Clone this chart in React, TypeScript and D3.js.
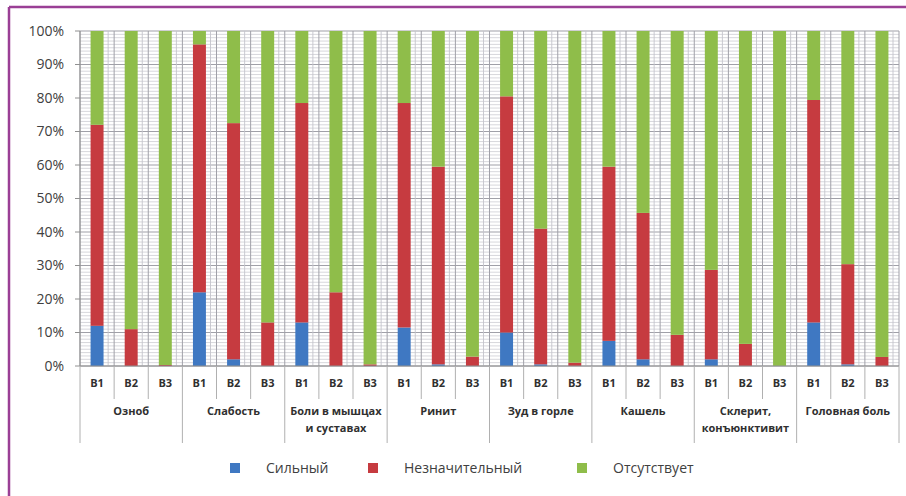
import React from 'react';
import * as d3 from 'd3';

// symptoms, each measured at three visits
const symptoms = ['Озноб', 'Слабость', 'Боли в мышцах|и суставах', 'Ринит', 'Зуд в горле', 'Кашель', 'Склерит,|конъюнктивит', 'Головная боль'];
const visits = ['В1', 'В2', 'В3'];

// percent values per bar (symptom x visit, in order)
const strong = [12, 0, 0, 22, 2, 0, 13, 0, 0, 11.5, 0.5, 0, 10, 0.5, 0, 7.5, 2, 0, 2, 0, 0, 13, 0.5, 0];
const slight = [60, 11, 0.3, 74, 70.5, 13, 65.5, 22, 0.5, 67, 59, 2.8, 70.5, 40.5, 1, 52, 43.7, 9.3, 26.7, 6.6, 0, 66.4, 29.9, 2.7];
const absent = strong.map((s, i) => 100 - s - slight[i]);

const seriesNames = ['Сильный', 'Незначительный', 'Отсутствует'];
const colors = ['#3f78c2', '#c63b40', '#8fbd4a'];
const yTicks = [0, 10, 20, 30, 40, 50, 60, 70, 80, 90, 100];

const width = 906;
const height = 496;
const left = 80;
const right = 899;
const top = 31;
const bottom = 366;

export default function App() {
  const bars = symptoms.flatMap((s, i) => visits.map((v) => `${i}-${v}`));
  const x = d3.scaleBand().domain(bars).range([left, right]).paddingInner(0.62).paddingOuter(0.31);
  const y = d3.scaleLinear().domain([0, 100]).range([bottom, top]);
  const step = x.step();

  const rows = bars.map((b, i) => ({ key: b, s: strong[i], w: slight[i], a: absent[i] }));
  const stack = d3.stack<any>().keys(['s', 'w', 'a'])(rows);

  const minor = d3.range(0, 101, 1);
  const font = '"Open Sans", "Liberation Sans", sans-serif';

  return (
    <svg width={width} height={height} style={{ position: 'absolute', left: 0, top: 0, background: '#fff' }}>
      {/* frame */}
      <line x1={9} x2={width} y1={7} y2={7} stroke="#9a3f95" strokeWidth={2.5} />
      <line x1={9} x2={9} y1={7} y2={height} stroke="#9a3f95" strokeWidth={2.5} />

      {/* grid */}
      {minor.map((t) => (
        <line key={'h' + t} x1={left} x2={right} y1={y(t)} y2={y(t)}
          stroke={t % 10 === 0 ? '#a0a0a8' : '#d2d2d8'} strokeWidth={t % 10 === 0 ? 1.2 : 0.9} />
      ))}
      {d3.range(0, bars.length + 1).map((i) => (
        <g key={'v' + i}>
          <line x1={left + i * step} x2={left + i * step} y1={top} y2={bottom} stroke="#a0a0a8" strokeWidth={1} />
          {i > 0 && (
            <line x1={left + i * step - 6} x2={left + i * step - 6} y1={top} y2={bottom} stroke="#c4c4cc" strokeWidth={0.9} />
          )}
        </g>
      ))}

      {/* bars */}
      {stack.map((layer, k) => (
        <g key={k} fill={colors[k]}>
          {layer.map((d, i) => (
            <rect key={i} x={x(bars[i])} width={x.bandwidth()} y={y(d[1])} height={Math.max(0, y(d[0]) - y(d[1]))} />
          ))}
        </g>
      ))}

      {/* y axis */}
      <line x1={left} x2={left} y1={top} y2={bottom} stroke="#909090" />
      {yTicks.map((t) => (
        <g key={t}>
          <line x1={left - 5} x2={left} y1={y(t)} y2={y(t)} stroke="#909090" />
          <text x={left - 16} y={y(t)} dy="0.35em" textAnchor="end" fontFamily={font} fontSize={14} fill="#404040">
            {t}%
          </text>
        </g>
      ))}

      {/* x axis: visits */}
      <line x1={left} x2={right} y1={bottom} y2={bottom} stroke="#909090" />
      {bars.map((b, i) => (
        <g key={b}>
          {i % 3 !== 0 && (
            <line x1={left + i * step} x2={left + i * step} y1={bottom} y2={bottom + 33} stroke="#b0b0b0" />
          )}
          <text x={x(b)! + x.bandwidth() / 2} y={bottom + 21} textAnchor="middle" fontFamily={font}
            fontSize={11} fontWeight="bold" fill="#303030">
            {visits[i % 3]}
          </text>
        </g>
      ))}

      {/* x axis: symptoms */}
      {d3.range(0, symptoms.length + 1).map((i) => (
        <line key={'c' + i} x1={left + i * 3 * step} x2={left + i * 3 * step} y1={bottom} y2={443} stroke="#b0b0b0" />
      ))}
      {symptoms.map((s, i) => (
        <text key={s} x={left + (i * 3 + 1.5) * step} y={bottom + 49} textAnchor="middle" fontFamily={font}
          fontSize={11} fontWeight="bold" fill="#303030">
          {s.split('|').map((line, j) => (
            <tspan key={j} x={left + (i * 3 + 1.5) * step} dy={j === 0 ? 0 : 17}>{line}</tspan>
          ))}
        </text>
      ))}

      {/* legend */}
      {seriesNames.map((n, k) => {
        const lx = [230, 368, 577][k];
        return (
          <g key={n}>
            <rect x={lx} y={463} width={10} height={10} fill={colors[k]} />
            <text x={lx + 36} y={468} dy="0.35em" fontFamily={font} fontSize={14} fill="#404040">{n}</text>
          </g>
        );
      })}
    </svg>
  );
}
